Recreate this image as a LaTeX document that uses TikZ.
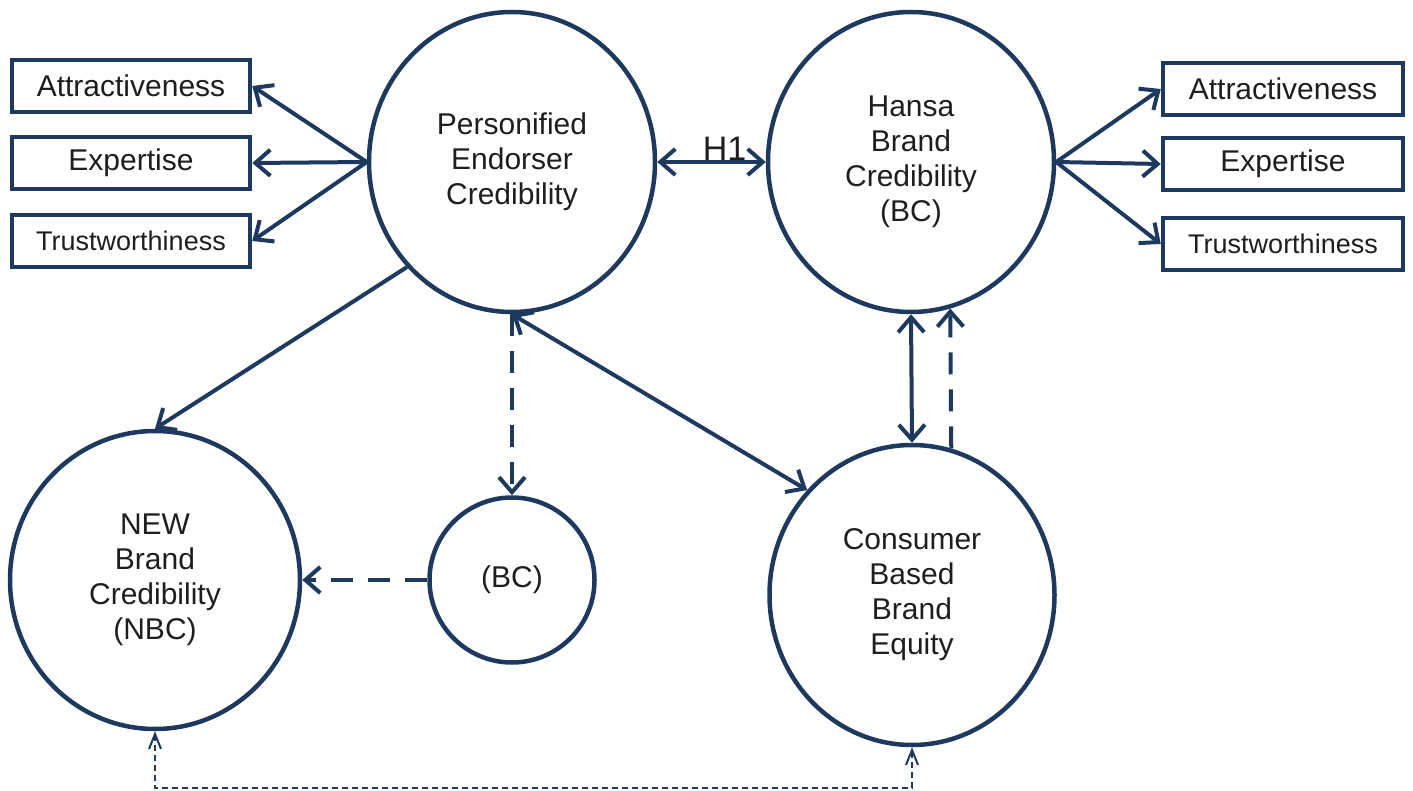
\documentclass[tikz,border=0pt]{standalone}
\usepackage{fontspec}
\setmainfont{Liberation Sans}
\usetikzlibrary{shapes.geometric,arrows.meta,positioning}
\definecolor{navy}{RGB}{30,57,94}
\definecolor{ink}{RGB}{30,30,30}

\begin{document}
\begin{tikzpicture}[x=1pt,y=-1pt,line width=4pt,draw=navy,text=ink,>={Straight Barb[length=15pt,width=26pt]}]
	\tikzset{latent/.style={ellipse, draw=navy, line width=4.5pt, minimum width=286pt, minimum height=300pt, inner sep=0pt, align=center, font=\fontsize{30}{35}\selectfont}}
	\tikzset{indicator/.style={rectangle, draw=navy, line width=4.5pt, minimum width=238pt, minimum height=52pt, inner sep=0pt, font=\fontsize{30}{36}\selectfont}}
	\tikzset{longdash/.style={dash pattern=on 22pt off 15pt}}
	\tikzset{thindash/.style={line width=2pt, dash pattern=on 6pt off 4pt, >={Straight Barb[length=15pt,width=12pt]}}}
	\useasboundingbox (0,0) rectangle (1413,791);
	% latent variables
	\node[latent] (pec) at (512,162) {Personified\\Endorser\\Credibility};
	\node[latent] (hbc) at (911,162) {Hansa\\Brand\\Credibility\\(BC)};
	\node[latent, minimum width=290pt, minimum height=298pt] (nbc) at (155,580) {NEW\\Brand\\Credibility\\(NBC)};
	\node[latent, minimum width=165pt, minimum height=165pt] (bc) at (512,580) {(BC)};
	\node[latent, minimum width=285pt] (cbbe) at (912,595) {Consumer\\Based\\Brand\\Equity};
	% indicators left
	\node[indicator] (attrL) at (131,86) {Attractiveness};
	\node[indicator] (expL) at (131,163) {Expertise};
	\node[indicator, font=\fontsize{27}{32}\selectfont] (trustL) at (131,241) {Trustworthiness};
	% indicators right
	\node[indicator, minimum width=240pt] (attrR) at (1283,89) {Attractiveness};
	\node[indicator, minimum width=240pt] (expR) at (1283,164) {Expertise};
	\node[indicator, minimum width=240pt, font=\fontsize{27}{32}\selectfont] (trustR) at (1283,244) {Trustworthiness};
	% arrows
	\draw[->] (pec.west) -- (attrL.east);
	\draw[->] (pec.west) -- (expL.east);
	\draw[->] (pec.west) -- (trustL.east);
	\draw[->] (hbc.east) -- (attrR.west);
	\draw[->] (hbc.east) -- (expR.west);
	\draw[->] (hbc.east) -- (trustR.west);
	\draw[<->] (pec.east) -- node[pos=0.62, anchor=base, yshift=1pt, font=\fontsize{34}{40}\selectfont]{H1} (hbc.west);
	\draw[->] (pec.225) -- (nbc.north);
	\draw[->, longdash] (pec.south) -- (bc.north);
	\draw[<->] (pec.south) -- (cbbe.135);
	\draw[<->] (hbc.south) -- (cbbe.north);
	\draw[->, longdash] (cbbe.75) -- (hbc.-75);
	\draw[->, longdash] (bc.west) -- (nbc.east);
	\draw[<->, thindash] (nbc.south) -- (nbc.south |- 0,788) -| (cbbe.south);
\end{tikzpicture}
\end{document}
